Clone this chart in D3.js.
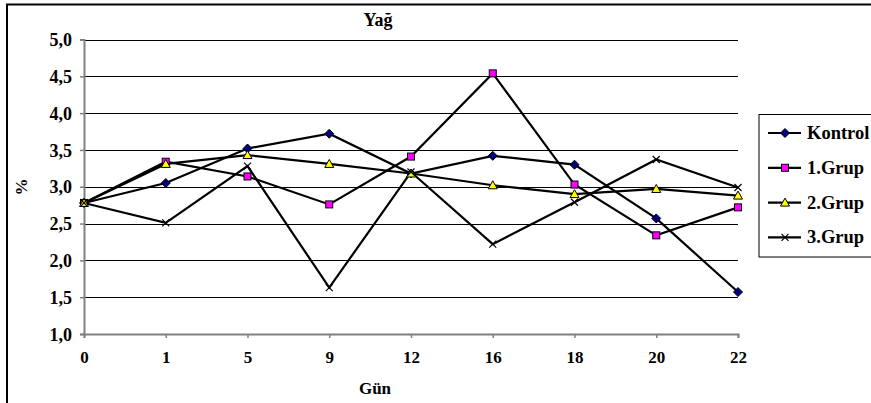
<!DOCTYPE html>
<html><head><meta charset="utf-8">
<script src="https://cdn.jsdelivr.net/npm/d3@7"></script>
<style>body{margin:0;background:#fff;}</style>
</head><body>
<svg id="c" width="871" height="403"></svg>
<script>
const categories = ["0","1","5","9","12","16","18","20","22"];
const kontrol = [2.78,3.05,3.52,3.72,3.18,3.42,3.30,2.57,1.57];
const grup1   = [2.78,3.34,3.14,2.76,3.41,4.54,3.03,2.34,2.72];
const grup2   = [2.78,3.31,3.43,3.31,3.18,3.02,2.90,2.97,2.88];
const grup3   = [2.78,2.51,3.28,1.63,3.20,2.22,2.79,3.37,2.99];
const yTicks  = [1.0,1.5,2.0,2.5,3.0,3.5,4.0,4.5,5.0];
const seriesNames = ["Kontrol","1.Grup","2.Grup","3.Grup"];
const title = "Yağ", xTitle = "Gün", yTitle = "%";

const FONT = "Liberation Serif";
const series = [
  {name: seriesNames[0], values: kontrol, marker: "diamond", fill: "#000080"},
  {name: seriesNames[1], values: grup1,   marker: "square",  fill: "#FF00FF"},
  {name: seriesNames[2], values: grup2,   marker: "triangle",fill: "#FFFF00"},
  {name: seriesNames[3], values: grup3,   marker: "x",       fill: "none"}
];

const svg = d3.select("#c");
function styleText(sel, size){
  return sel.attr("font-family",FONT).attr("font-weight","bold").attr("font-size",size).attr("fill","#000");
}
svg.append("rect").attr("x",7).attr("y",4.5).attr("width",900).attr("height",430)
  .attr("fill","#fff").attr("stroke","#000").attr("stroke-width",2);

const x = d3.scalePoint().domain(categories).range([84,738]).padding(0);
const y = d3.scaleLinear().domain([1,5]).range([334,39.5]);

svg.append("g").selectAll("line").data(yTicks.filter(d=>d>1)).join("line")
  .attr("x1",84).attr("x2",738).attr("y1",d=>Math.round(y(d))+0.5).attr("y2",d=>Math.round(y(d))+0.5)
  .attr("stroke","#000").attr("stroke-width",1);

const yAxis = d3.axisLeft(y).tickValues(yTicks).tickSize(4).tickPadding(8)
  .tickFormat(d=>d3.format(".1f")(d).replace(".",","));
const gy = svg.append("g").attr("transform","translate(84,0)").call(yAxis);
gy.attr("font-family",FONT);
gy.select(".domain").attr("stroke","#808080").attr("stroke-width",2);
gy.selectAll(".tick line").attr("stroke","#808080").attr("stroke-width",1.5);
styleText(gy.selectAll("text"),18).attr("dy","0.34em");

const xAxis = d3.axisBottom(x).tickSize(4).tickPadding(12);
const gx = svg.append("g").attr("transform","translate(0,334)").call(xAxis);
gx.attr("font-family",FONT);
gx.select(".domain").attr("stroke","#808080").attr("stroke-width",2);
gx.selectAll(".tick line").attr("stroke","#808080").attr("stroke-width",1.5);
styleText(gx.selectAll("text"),17).attr("y",29).attr("dy",0);

styleText(svg.append("text"),18).attr("x",378).attr("y",26).attr("text-anchor","middle").text(title);
styleText(svg.append("text"),17).attr("x",375).attr("y",394).attr("text-anchor","middle").text(xTitle);
styleText(svg.append("text"),17).attr("transform","translate(27,187) rotate(-90)").attr("text-anchor","middle").text(yTitle);

function drawMarker(g, type, fill){
  if(type==="diamond") g.append("path").attr("d","M0,-4.5L4.5,0L0,4.5L-4.5,0Z").attr("fill",fill).attr("stroke","#000").attr("stroke-width",1);
  else if(type==="square") g.append("rect").attr("x",-3.5).attr("y",-3.5).attr("width",7).attr("height",7).attr("fill",fill).attr("stroke","#000").attr("stroke-width",1);
  else if(type==="triangle") g.append("path").attr("d","M0,-4.5L4.5,3.5L-4.5,3.5Z").attr("fill",fill).attr("stroke","#000").attr("stroke-width",1);
  else g.append("path").attr("d","M-3.5,-3.5L3.5,3.5M-3.5,3.5L3.5,-3.5").attr("fill","none").attr("stroke","#000").attr("stroke-width",1.2);
}

const line = d3.line().x((d,i)=>x(categories[i])).y(d=>y(d));
const plot = svg.append("g");
series.forEach(s=>{
  plot.append("path").datum(s.values).attr("d",line).attr("fill","none").attr("stroke","#000").attr("stroke-width",2.2);
});
series.forEach(s=>{
  s.values.forEach((v,i)=>{
    const g = plot.append("g").attr("transform",`translate(${x(categories[i])},${y(v)})`);
    drawMarker(g, s.marker, s.fill);
  });
});

const lg = svg.append("g");
lg.append("rect").attr("x",759).attr("y",114.5).attr("width",140).attr("height",142.5)
  .attr("fill","#fff").attr("stroke","#000").attr("stroke-width",1);
series.forEach((s,i)=>{
  const cy = 133 + i*34.8;
  lg.append("line").attr("x1",768).attr("x2",801).attr("y1",cy).attr("y2",cy).attr("stroke","#000").attr("stroke-width",2.2);
  drawMarker(lg.append("g").attr("transform",`translate(785,${cy})`), s.marker, s.fill);
  styleText(lg.append("text"),18.5).attr("x",807).attr("y",cy+6).text(s.name);
});
</script>
</body></html>
